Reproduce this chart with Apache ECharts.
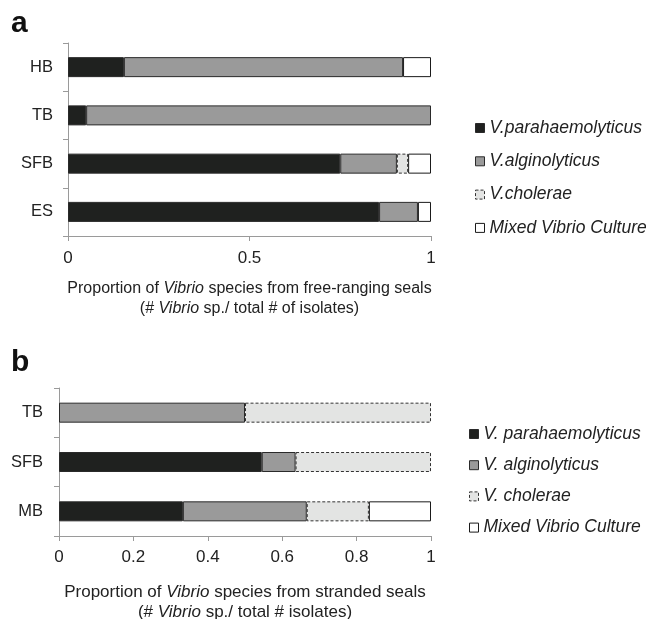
<!DOCTYPE html>
<html>
<head>
<meta charset="utf-8">
<script src="https://cdn.jsdelivr.net/npm/echarts@6/dist/echarts.min.js"></script>
<style>html,body{margin:0;padding:0;background:#fff;}#c{width:646px;height:619px;}</style>
</head>
<body>
<div id="c"></div>
<script>
// ---- Panel a: free-ranging seals ----
const catsA = ['HB', 'TB', 'SFB', 'ES'];
const paraA = [0.154, 0.05, 0.75, 0.857];
const algA = [0.769, 0.95, 0.156, 0.107];
const cholA = ['-', '-', 0.031, '-'];
const mixA = [0.077, '-', 0.063, 0.036];
const namesA = ['V.parahaemolyticus', 'V.alginolyticus', 'V.cholerae', 'Mixed Vibrio Culture'];
const ticksA = { min: 0, max: 1, interval: 0.5 };

// ---- Panel b: stranded seals ----
const catsB = ['TB', 'SFB', 'MB'];
const paraB = ['-', 0.545, 0.333];
const algB = [0.5, 0.091, 0.333];
const cholB = [0.5, 0.364, 0.167];
const mixB = ['-', '-', 0.167];
const namesB = ['V. parahaemolyticus', 'V. alginolyticus', 'V. cholerae', 'Mixed Vibrio Culture'];
const ticksB = { min: 0, max: 1, interval: 0.2 };

const FONT = '"Liberation Sans", Arial, Helvetica, sans-serif';
const styles = [
  { color: '#1f211f', borderColor: '#2a2a2a', borderWidth: 1 },
  { color: '#9a9a9a', borderColor: '#2a2a2a', borderWidth: 1 },
  { color: '#e3e4e3', borderColor: '#333', borderWidth: 1, borderType: [3, 2] },
  { color: '#ffffff', borderColor: '#1a1a1a', borderWidth: 1 }
];

function mkSeries(names, arrs, idx, stack) {
  return arrs.map((d, i) => ({
    type: 'bar', name: names[i], stack: stack, data: d,
    xAxisIndex: idx, yAxisIndex: idx, barWidth: 20,
    itemStyle: Object.assign({}, styles[i]),
    emphasis: { disabled: true }
  }));
}

const axisCol = '#9a9a9a';
function xAx(idx, t, margin, gap, name, titleSize) {
  return {
    type: 'value', gridIndex: idx, min: t.min, max: t.max, interval: t.interval,
    splitLine: { show: false },
    axisLine: { show: true, lineStyle: { color: axisCol, width: 1 } },
    axisTick: { show: true, length: 5, lineStyle: { color: axisCol } },
    axisLabel: { fontFamily: FONT, fontSize: 17, color: '#222', margin: margin,
      formatter: v => String(+v.toFixed(1)) },
    name: name, nameLocation: 'middle', nameGap: gap,
    nameTextStyle: {
      fontFamily: FONT, fontSize: titleSize, color: '#222', lineHeight: 20, verticalAlign: 'top',
      rich: {
        n: { fontFamily: FONT, fontSize: titleSize, color: '#222', lineHeight: 20 },
        i: { fontFamily: FONT, fontSize: titleSize, color: '#222', fontStyle: 'italic', lineHeight: 20 }
      }
    }
  };
}
function yAx(idx, cats, margin) {
  return {
    type: 'category', gridIndex: idx, data: cats, inverse: true,
    axisLine: { show: true, lineStyle: { color: axisCol, width: 1 } },
    axisTick: { show: true, length: 5, lineStyle: { color: axisCol } },
    axisLabel: { fontFamily: FONT, fontSize: 16.5, color: '#222', margin: margin }
  };
}
function legend(names, left, top, gap) {
  return {
    orient: 'vertical', left: left, top: top, itemGap: gap, padding: 0,
    itemWidth: 9, itemHeight: 9, icon: 'rect', selectedMode: false,
    data: names.map((n, i) => ({ name: n, itemStyle: Object.assign({}, styles[i]) })),
    textStyle: { fontFamily: FONT, fontSize: 17.5, fontStyle: 'italic', color: '#222', lineHeight: 18 }
  };
}

const chart = echarts.init(document.getElementById('c'), null, { renderer: 'canvas' });
chart.setOption({
  animation: false,
  backgroundColor: '#fff',
  grid: [
    { left: 68, width: 363, top: 43, height: 193, outerBoundsMode: 'none', containLabel: false },
    { left: 59, width: 372, top: 388, height: 148, outerBoundsMode: 'none', containLabel: false }
  ],
  xAxis: [
    xAx(0, ticksA, 14, 43, '{n|Proportion of }{i|Vibrio}{n| species from free-ranging seals}\n{n|(# }{i|Vibrio}{n| sp./ total # of isolates)}', 16),
    xAx(1, ticksB, 13, 46, '{n|Proportion of }{i|Vibrio}{n| species from stranded seals}\n{n|(# }{i|Vibrio}{n| sp./ total # isolates)}', 17)
  ],
  yAxis: [yAx(0, catsA, 15), yAx(1, catsB, 16)],
  legend: [legend(namesA, 475, 119, 15.3), legend(namesB, 469, 425, 13.2)],
  series: [].concat(
    mkSeries(namesA, [paraA, algA, cholA, mixA], 0, 'a'),
    mkSeries(namesB, [paraB, algB, cholB, mixB], 1, 'b')
  ),
  graphic: [
    { type: 'text', left: 11, top: 9, style: { text: 'a', font: 'bold 30px ' + FONT, fill: '#111' } },
    { type: 'text', left: 11, top: 348, style: { text: 'b', font: 'bold 30px ' + FONT, fill: '#111' } }
  ]
});
</script>
</body>
</html>
